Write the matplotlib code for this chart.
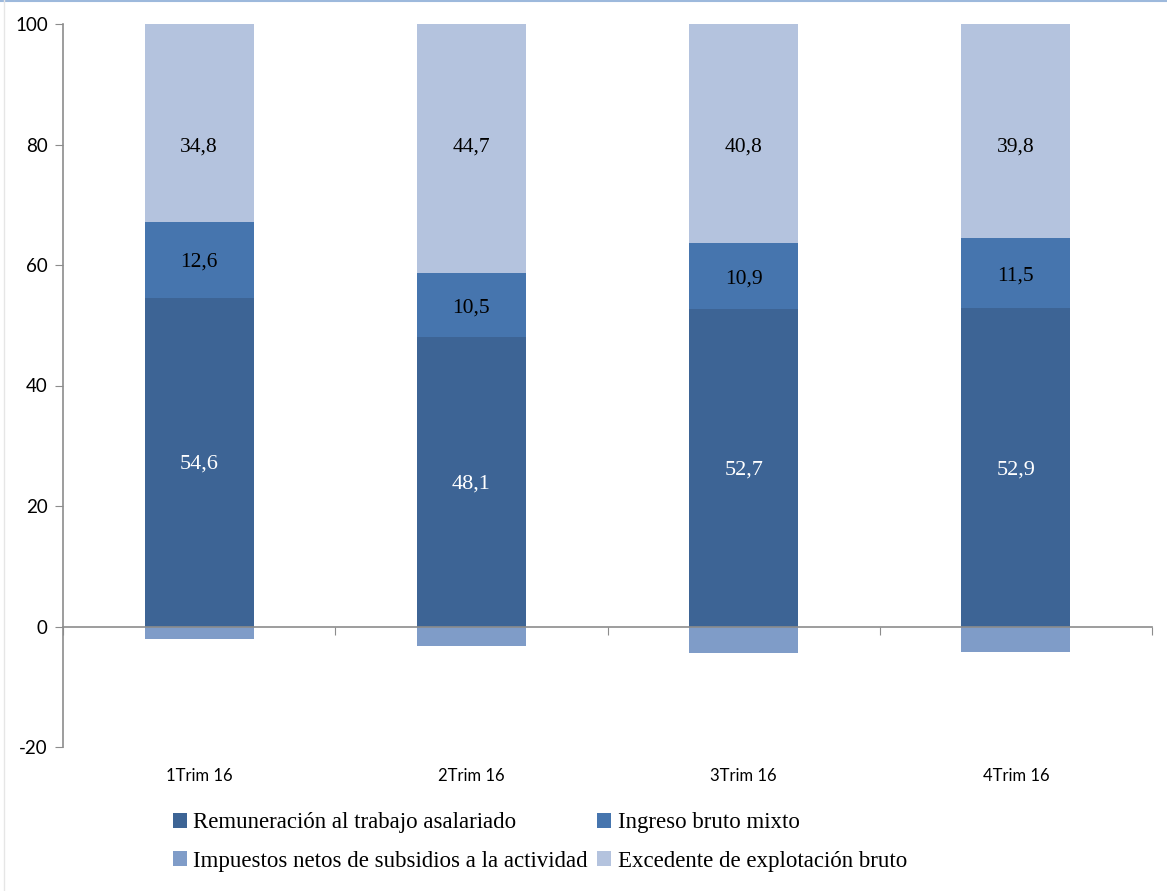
import matplotlib
matplotlib.use("Agg")
import matplotlib.pyplot as plt
import matplotlib.transforms as mtransforms
from matplotlib.lines import Line2D
import numpy as np

categories = ["1Trim 16", "2Trim 16", "3Trim 16", "4Trim 16"]
remuneracion = [54.6, 48.1, 52.7, 52.9]
ingreso_mixto = [12.6, 10.5, 10.9, 11.5]
impuestos = [-2.0, -3.3, -4.4, -4.2]
excedente = [34.8, 44.7, 40.8, 39.8]
series_names = ["Remuneración al trabajo asalariado", "Ingreso bruto mixto",
                "Impuestos netos de subsidios a la actividad", "Excedente de explotación bruto"]
yticks = [-20, 0, 20, 40, 60, 80, 100]

c_rem = "#3D6495"
c_ing = "#4675AE"
c_imp = "#7F9CC8"
c_exc = "#B4C3DE"

fig = plt.figure(figsize=(11.67, 8.91), dpi=100)
ax = fig.add_axes([63/1167, 1 - 747/891, (1152-63)/1167, (747-24)/891])

x = np.arange(len(categories))
w = 0.4
rem = np.array(remuneracion)
ing = np.array(ingreso_mixto)
imp = np.array(impuestos)
exc = np.array(excedente)

h_rem = ax.bar(x, rem, w, color=c_rem, label=series_names[0], zorder=2)
h_ing = ax.bar(x, ing, w, bottom=rem, color=c_ing, label=series_names[1], zorder=2)
h_imp = ax.bar(x, imp, w, color=c_imp, label=series_names[2], zorder=2)
h_exc = ax.bar(x, exc, w, bottom=rem + ing, color=c_exc, label=series_names[3], zorder=2)

ax.set_ylim(-20, 100)
ax.set_xlim(-0.5, len(categories) - 0.5)

lab_font = dict(family="Liberation Serif", ha="center", va="center_baseline")
for i in range(len(categories)):
    ax.text(x[i], rem[i] / 2, f"{rem[i]:.1f}".replace(".", ","), color="white", fontsize=16, **lab_font)
    ax.text(x[i], rem[i] + ing[i] / 2, f"{ing[i]:.1f}".replace(".", ","), color="black", fontsize=15.5, **lab_font)
    ax.text(x[i], 80.0, f"{exc[i]:.1f}".replace(".", ","), color="black", fontsize=15.5, **lab_font)

# spines
for s in ["top", "right"]:
    ax.spines[s].set_visible(False)
ax.spines["left"].set_color("#8C8C8C")
ax.spines["bottom"].set_color("#8C8C8C")
ax.spines["bottom"].set_position(("data", 0))
ax.spines["left"].set_linewidth(1.2)
ax.spines["bottom"].set_linewidth(1.2)

ax.set_yticks(yticks)
ax.set_yticklabels([str(t) for t in yticks], family="Lato", fontsize=13.5)
ax.tick_params(axis="y", direction="out", length=6, color="#8C8C8C", pad=5)
ax.set_xticks(np.arange(len(categories) + 1) - 0.5)
ax.set_xticklabels([])
ax.tick_params(axis="x", direction="out", length=6, color="#8C8C8C")

trans = mtransforms.blended_transform_factory(ax.transData, ax.transAxes)
for i, c in enumerate(categories):
    ax.text(x[i], -0.04, c, transform=trans, ha="center", va="center",
            family="Lato", fontsize=12)

handles = [h_rem, h_imp, h_ing, h_exc]
labels = [series_names[0], series_names[2], series_names[1], series_names[3]]
leg = fig.legend(handles, labels, ncol=2, loc="center", bbox_to_anchor=(540/1167, 1 - 842/891),
                 frameon=False, prop=dict(family="Liberation Serif", size=16.5),
                 handlelength=0.6, handleheight=0.6, handletextpad=0.3, columnspacing=0.4,
                 labelspacing=0.75)

fig.add_artist(Line2D([0, 1], [0.999, 0.999], transform=fig.transFigure, color="#9DB9DC", lw=1.5))
fig.add_artist(Line2D([4/1167, 4/1167], [0, 1], transform=fig.transFigure, color="#E6E6E6", lw=1))

fig.savefig("out.png", dpi=100)
